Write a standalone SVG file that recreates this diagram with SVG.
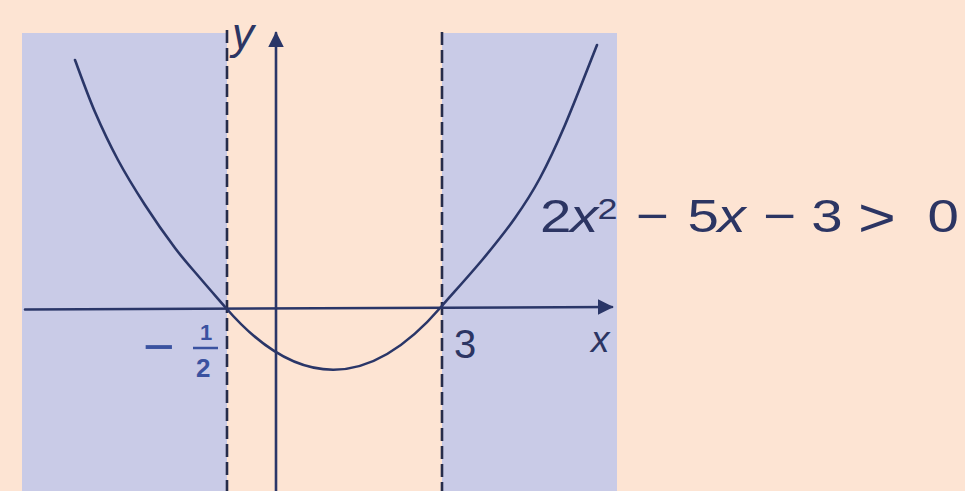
<svg xmlns="http://www.w3.org/2000/svg" width="965" height="491" viewBox="0 0 965 491">
<defs>
<style>
.ink{fill:none;stroke:#2a3668;stroke-width:2.6;stroke-linecap:round}
.dash{fill:none;stroke:#262c4a;stroke-width:2.6;stroke-dasharray:13 5}
.shade{fill:#c9cbe7}
.lbl{font-family:"Liberation Sans",Arial,sans-serif;fill:#2c3563}
.blue{font-family:"Liberation Sans",Arial,sans-serif;fill:#3a52a0}
</style>
<marker id="arr" viewBox="0 0 10 10" refX="9" refY="5" markerWidth="6" markerHeight="6" markerUnits="strokeWidth" orient="auto">
<path d="M0,0 L10,5 L0,10 Z" fill="#2a3668"/>
</marker>
</defs>
<rect x="0" y="0" width="965" height="491" fill="#fde4d3"/>
<g id="regions">
<rect class="shade" x="22" y="33" width="205" height="458"/>
<rect class="shade" x="442" y="33" width="175" height="458"/>
</g>
<g id="boundaries">
<line class="dash" x1="227" y1="30" x2="227" y2="491"/>
<line class="dash" x1="442" y1="32" x2="442" y2="491"/>
</g>
<g id="axes">
<line class="ink" x1="25" y1="309.5" x2="612" y2="307" marker-end="url(#arr)"/>
<line class="ink" x1="276" y1="491" x2="276" y2="33" marker-end="url(#arr)"/>
</g>
<g id="curve">
<path class="ink" d="M75,60 C78.3,68.7 87.8,95.3 95,112 C102.2,128.7 109.7,144.5 118,160 C126.3,175.5 135.5,190.3 145,205 C154.5,219.7 165.8,235.8 175,248 C184.2,260.2 191.5,268 200,278 C208.5,288 217.5,298.2 226,308 Q333.5,432 441,307 C452.3,294 470.7,273.8 483,259 C495.3,244.2 505.5,231.5 515,218 C524.5,204.5 531.7,193.5 540,178 C548.3,162.5 555.5,147.2 565,125 C574.5,102.8 591.7,58.3 597,45"/>
</g>
<g id="labels">
<text class="lbl" x="232" y="49" font-size="44" font-style="italic">y</text>
<text class="lbl" x="591" y="352" font-size="37" font-style="italic">x</text>
<text class="lbl" x="454" y="358" font-size="40">3</text>
<text class="blue" x="143" y="365" font-size="54">−</text>
<text class="blue" x="200" y="340" font-size="22" font-weight="bold">1</text>
<line x1="193" y1="348" x2="218" y2="348" stroke="#3a52a0" stroke-width="2.5"/>
<text class="blue" x="196" y="377" font-size="26" font-weight="bold">2</text>
</g>
<g id="inequality" transform="scale(1.2,1)">
<text class="lbl" y="232" font-size="47"><tspan x="450">2</tspan><tspan x="475" font-style="italic">x</tspan><tspan x="498" y="219" font-size="30">2</tspan><tspan x="530" y="232">−</tspan><tspan x="573">5</tspan><tspan x="598" font-style="italic">x</tspan><tspan x="636">−</tspan><tspan x="676">3</tspan><tspan x="715" y="236" font-size="54">&gt;</tspan><tspan x="773" y="232">0</tspan></text>
</g>
</svg>
